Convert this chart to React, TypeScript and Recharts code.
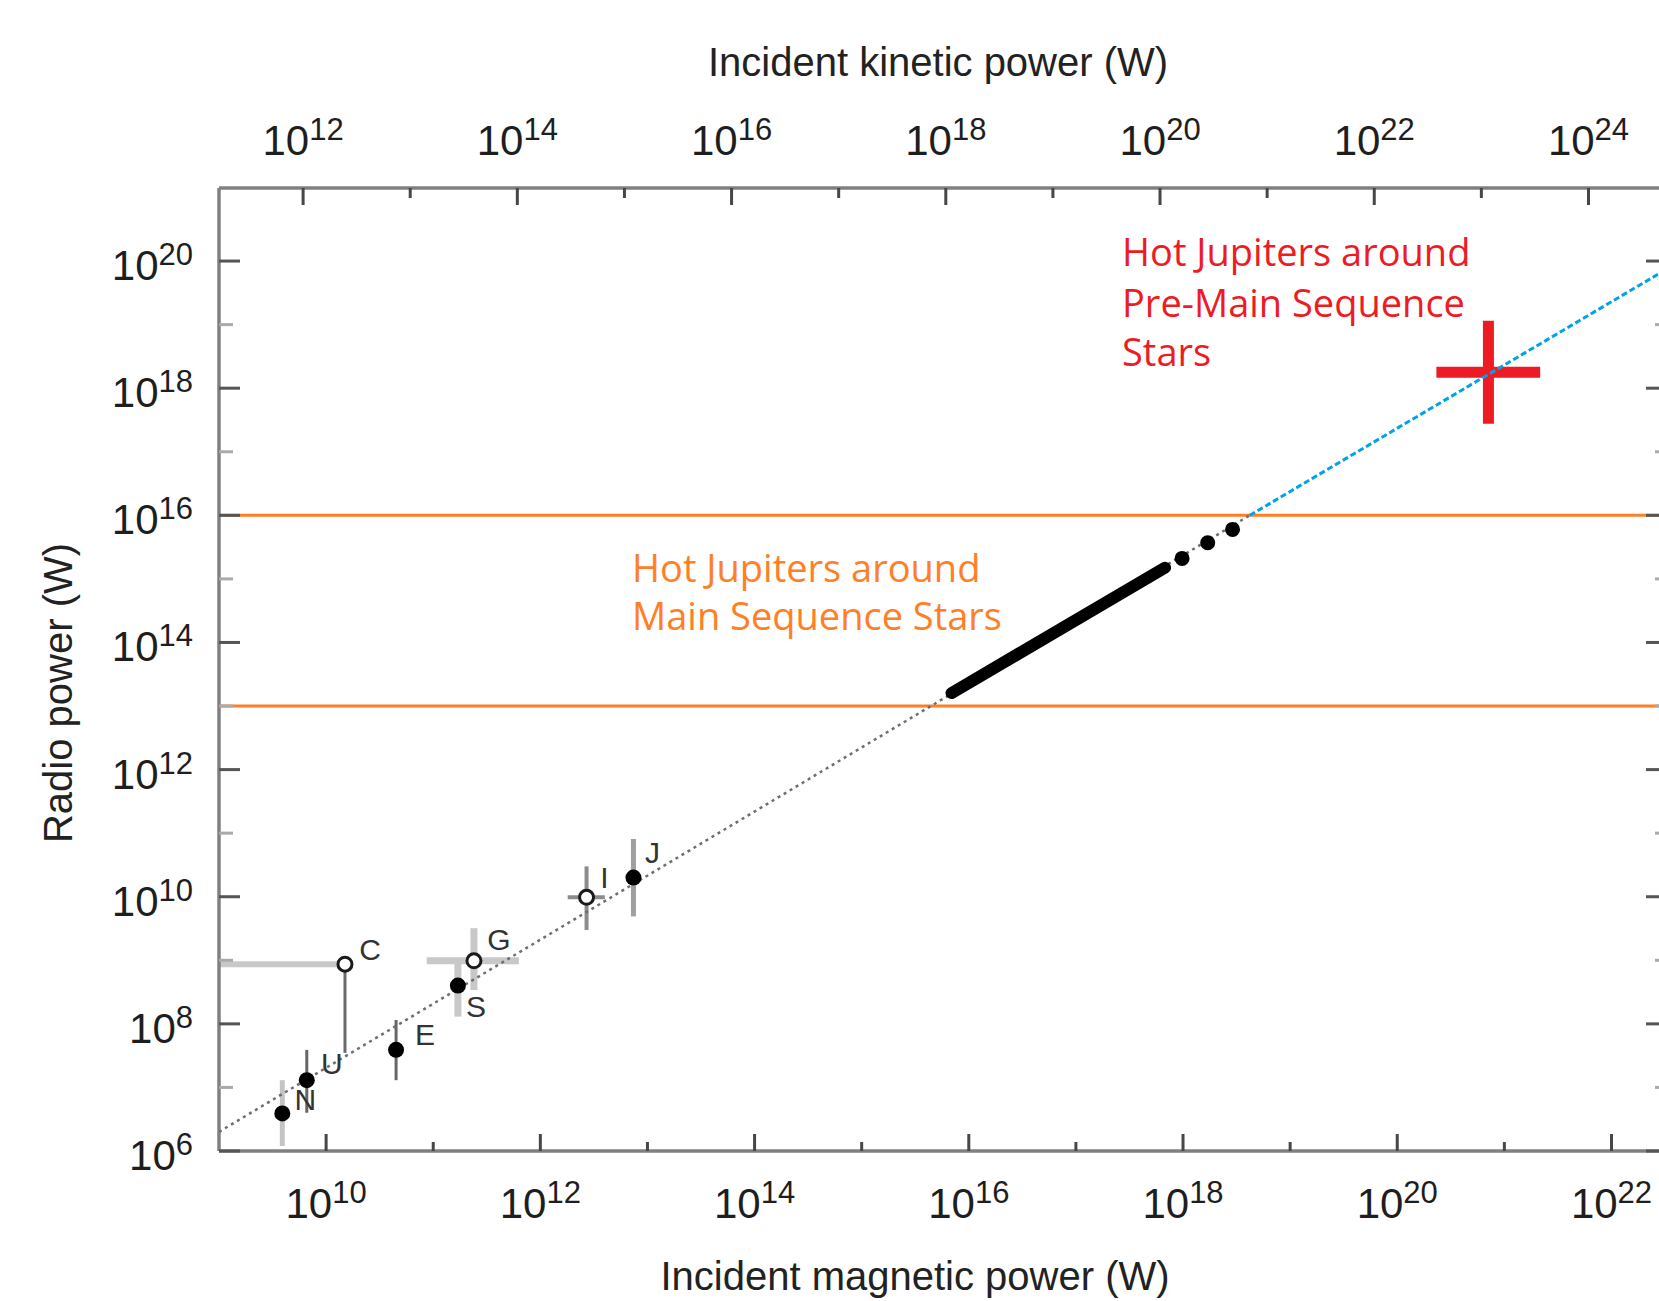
import { ComposedChart, Scatter, XAxis, YAxis, ReferenceLine } from 'recharts'

// axis ranges (W)
const magneticDomain: [number, number] = [1e9, 3.16e22]
const kineticDomain: [number, number] = [1.64e11, 5.18e24]
const radioDomain: [number, number] = [1e6, 1.41e21]

const magneticTicks = [1e10, 1e11, 1e12, 1e13, 1e14, 1e15, 1e16, 1e17, 1e18, 1e19, 1e20, 1e21, 1e22]
const kineticTicks = [1e12, 1e13, 1e14, 1e15, 1e16, 1e17, 1e18, 1e19, 1e20, 1e21, 1e22, 1e23, 1e24]
const radioTicks = [1e6, 1e7, 1e8, 1e9, 1e10, 1e11, 1e12, 1e13, 1e14, 1e15, 1e16, 1e17, 1e18, 1e19, 1e20]

// solar system bodies
const planetNames = ['N', 'U', 'C', 'E', 'S', 'G', 'I', 'J']
const planetMagnetic = [3.9e9, 6.6e9, 1.5e10, 4.5e10, 1.7e11, 2.4e11, 2.7e12, 7.4e12]
const planetRadio = [3.9e6, 1.3e7, 8.7e8, 3.9e7, 4.0e8, 9.8e8, 9.8e9, 2.0e10]
const planetOpen = [false, false, true, false, false, true, true, false]
const radioLow = [1.2e6, 4.0e6, 3.5e7, 1.3e7, 1.3e8, 3.4e8, 3.0e9, 4.9e9]
const radioHigh = [1.3e7, 3.9e7, 8.7e8, 1.15e8, 1.0e9, 3.2e9, 3.0e10, 8.1e10]
const magneticLow = [null, null, 1e9, null, null, 8.7e10, 1.8e12, null]
const magneticHigh = [null, null, 1.5e10, null, null, 6.3e11, 4.0e12, null]

// scaling law (dotted)
const lawMagnetic = [1e9, 4.2e18]
const lawRadio = [2.0e6, 1.0e16]
const lawExtMagnetic = [4.2e18, 3.16e22]
const lawExtRadio = [1.0e16, 7.2e19]

// hot Jupiters around main sequence stars
const hjBandMagnetic = [6.9e15, 6.8e17]
const hjBandRadio = [1.6e13, 1.5e15]
const hjDotMagnetic = [9.8e17, 1.7e18, 2.9e18]
const hjDotRadio = [2.1e15, 3.7e15, 6.0e15]

// limits of the main sequence range
const msLimits = [1e13, 1e16]

// hot Jupiter around a pre-main sequence star
const pmsMagnetic = [2.32e20, 2.16e21]
const pmsRadio = [2.75e17, 1.15e19]
const pmsCenter = { x: 7.1e20, y: 1.78e18 }

const planetData = planetNames.map((name, i) => ({
  name,
  x: planetMagnetic[i],
  y: planetRadio[i],
  open: planetOpen[i],
}))
const pair = (xs: number[], ys: number[]) => xs.map((x, i) => ({ x, y: ys[i] }))
// the kinetic axis carries no series of its own, only its range
const kineticRange = pair(kineticDomain, radioDomain)

const labelOffset: Record<string, [number, number]> = {
  N: [23, -3],
  U: [25, -6],
  C: [25, -4],
  E: [29, -5],
  S: [18, 31],
  G: [25, -11],
  I: [18, -9],
  J: [19, -15],
}
const vBar: Record<string, [string, number]> = {
  N: ['#c4c4c4', 5],
  U: ['#666666', 3],
  C: ['#6a6a6a', 3],
  E: ['#666666', 3],
  S: ['#c8c8c8', 7],
  G: ['#c8c8c8', 7],
  I: ['#8c8c8c', 4],
  J: ['#a0a0a0', 5],
}
const hBar: Record<string, [string, number]> = {
  C: ['#c8c8c8', 6],
  G: ['#c8c8c8', 7],
  I: ['#8c8c8c', 4],
}

const sans = '"Liberation Sans", Arial, Helvetica, sans-serif'
const paint = '"Open Sans", "Noto Sans", sans-serif'
const frame = { stroke: '#808080', strokeWidth: 3.5 }
const ids = { xAxisId: 'mag', yAxisId: 'left' }

const expOf = (v: number) => Math.round(Math.log10(v))

function Power({ x, y, anchor, exp }: any) {
  return (
    <text x={x} y={y} textAnchor={anchor} fontFamily={sans} fontSize={42} fill="#1e1e1e">
      10<tspan dy={-15} fontSize={31}>{exp}</tspan>
    </text>
  )
}

function BottomTick({ x, y, payload }: any) {
  const exp = expOf(payload.value)
  const major = exp % 2 === 0
  return (
    <g>
      <line x1={x} x2={x} y1={y} y2={y - (major ? 17 : 9)} stroke="#474747" strokeWidth={3} />
      {major && <Power x={x} y={y + 67} anchor="middle" exp={exp} />}
    </g>
  )
}

function TopTick({ x, y, payload }: any) {
  const exp = expOf(payload.value)
  const major = exp % 2 === 0
  return (
    <g>
      <line x1={x} x2={x} y1={y} y2={y + (major ? 17 : 10)} stroke="#474747" strokeWidth={3} />
      {major && <Power x={x} y={y - 33} anchor="middle" exp={exp} />}
    </g>
  )
}

function LeftTick({ x, y, payload }: any) {
  const exp = expOf(payload.value)
  const major = exp % 2 === 0
  return (
    <g>
      <line x1={x} x2={x + (major ? 21 : 14)} y1={y} y2={y} stroke={major ? '#555' : '#aaa'} strokeWidth={3} />
      {major && <Power x={x - 26} y={y + 19} anchor="end" exp={exp} />}
    </g>
  )
}

function RightTick({ x, y, payload }: any) {
  const major = expOf(payload.value) % 2 === 0
  return (
    <line x1={x} x2={x - (major ? 19 : 10)} y1={y} y2={y} stroke={major ? '#555' : '#aaa'} strokeWidth={3} />
  )
}

function Body({ cx, cy, payload }: any) {
  const [dx, dy] = labelOffset[payload.name]
  return (
    <g>
      {payload.open ? (
        <circle cx={cx} cy={cy} r={7} fill="#fff" stroke="#1a1a1a" strokeWidth={3} />
      ) : (
        <circle cx={cx} cy={cy} r={8} fill="#000" />
      )}
      <text x={cx + dx} y={cy + dy} textAnchor="middle" fontFamily={sans} fontSize={30} fill="#333">
        {payload.name}
      </text>
    </g>
  )
}

const Nothing = () => <g />

function App() {
  return (
    <div
      style={{
        position: 'absolute',
        left: 0,
        top: 0,
        width: 1659,
        height: 1301,
        overflow: 'hidden',
        background: '#fff',
      }}
    >
      <ComposedChart width={1680} height={1301} margin={{ top: 187, right: 14, bottom: 149, left: 218 }}>
        <XAxis
          xAxisId="mag"
          dataKey="x"
          type="number"
          scale="log"
          domain={magneticDomain}
          allowDataOverflow
          ticks={magneticTicks}
          interval={0}
          height={1}
          tickSize={0}
          tickMargin={0}
          tick={BottomTick}
          axisLine={frame}
        />
        <XAxis
          xAxisId="kin"
          dataKey="x"
          orientation="top"
          type="number"
          scale="log"
          domain={kineticDomain}
          allowDataOverflow
          ticks={kineticTicks}
          interval={0}
          height={1}
          tickSize={0}
          tickMargin={0}
          tick={TopTick}
          axisLine={frame}
        />
        <YAxis
          yAxisId="left"
          dataKey="y"
          type="number"
          scale="log"
          domain={radioDomain}
          allowDataOverflow
          ticks={radioTicks}
          interval={0}
          width={1}
          tickSize={0}
          tickMargin={0}
          tick={LeftTick}
          axisLine={frame}
        />
        <YAxis
          yAxisId="right"
          dataKey="y"
          orientation="right"
          type="number"
          scale="log"
          domain={radioDomain}
          allowDataOverflow
          ticks={radioTicks}
          interval={0}
          width={1}
          tickSize={0}
          tickMargin={0}
          tick={RightTick}
          axisLine={frame}
        />

        {msLimits.map((v) => (
          <ReferenceLine key={v} {...ids} y={v} stroke="#FF7F27" strokeWidth={3} />
        ))}

        {/* red cross */}
        <ReferenceLine
          {...ids}
          segment={[
            { x: pmsMagnetic[0], y: pmsCenter.y },
            { x: pmsMagnetic[1], y: pmsCenter.y },
          ]}
          stroke="#ED1C24"
          strokeWidth={11}
        />
        <ReferenceLine
          {...ids}
          segment={[
            { x: pmsCenter.x, y: pmsRadio[0] },
            { x: pmsCenter.x, y: pmsRadio[1] },
          ]}
          stroke="#ED1C24"
          strokeWidth={11}
        />

        {/* error bars */}
        {planetData.map((p, i) => (
          <ReferenceLine
            key={'v' + p.name}
            {...ids}
            segment={[
              { x: p.x, y: radioLow[i] },
              { x: p.x, y: radioHigh[i] },
            ]}
            stroke={vBar[p.name][0]}
            strokeWidth={vBar[p.name][1]}
          />
        ))}
        {planetData.map((p, i) =>
          magneticLow[i] == null ? null : (
            <ReferenceLine
              key={'h' + p.name}
              {...ids}
              segment={[
                { x: magneticLow[i] as number, y: p.y },
                { x: magneticHigh[i] as number, y: p.y },
              ]}
              stroke={hBar[p.name][0]}
              strokeWidth={hBar[p.name][1]}
            />
          ),
        )}

        <Scatter
          xAxisId="kin"
          yAxisId="right"
          data={kineticRange}
          shape={Nothing}
          isAnimationActive={false}
        />
        <Scatter
          {...ids}
          data={pair(lawMagnetic, lawRadio)}
          line={{ stroke: '#6e6e6e', strokeWidth: 2.5, strokeDasharray: '3 4' }}
          shape={Nothing}
          isAnimationActive={false}
        />
        <Scatter
          {...ids}
          data={pair(lawExtMagnetic, lawExtRadio)}
          line={{ stroke: '#00A2E8', strokeWidth: 3, strokeDasharray: '6 3' }}
          shape={Nothing}
          isAnimationActive={false}
        />
        <Scatter
          {...ids}
          data={pair(hjBandMagnetic, hjBandRadio)}
          line={{ stroke: '#000', strokeWidth: 12, strokeLinecap: 'round' }}
          shape={Nothing}
          isAnimationActive={false}
        />
        <Scatter
          {...ids}
          data={pair(hjDotMagnetic, hjDotRadio)}
          fill="#000"
          shape={(p: any) => <circle cx={p.cx} cy={p.cy} r={7.5} fill="#000" />}
          isAnimationActive={false}
        />
        <Scatter {...ids} data={planetData} shape={Body} isAnimationActive={false} />
      </ComposedChart>

      <svg
        width={1659}
        height={1301}
        style={{ position: 'absolute', left: 0, top: 0, pointerEvents: 'none' }}
      >
        <text x={938} y={76} textAnchor="middle" fontFamily={sans} fontSize={40} fill="#222">
          Incident kinetic power (W)
        </text>
        <text x={915} y={1290} textAnchor="middle" fontFamily={sans} fontSize={40} fill="#222">
          Incident magnetic power (W)
        </text>
        <text
          x={72}
          y={693}
          textAnchor="middle"
          transform="rotate(-90 72 693)"
          fontFamily={sans}
          fontSize={40}
          fill="#222"
        >
          Radio power (W)
        </text>

        <g fontFamily={paint} fontSize={38} fill="#ED1C24">
          <text x={1122} y={266}>Hot Jupiters around</text>
          <text x={1122} y={317}>Pre-Main Sequence</text>
          <text x={1122} y={366}>Stars</text>
        </g>
        <g fontFamily={paint} fontSize={38} fill="#FF7F27">
          <text x={632} y={582}>Hot Jupiters around</text>
          <text x={632} y={630}>Main Sequence Stars</text>
        </g>
      </svg>
    </div>
  )
}

export default App
